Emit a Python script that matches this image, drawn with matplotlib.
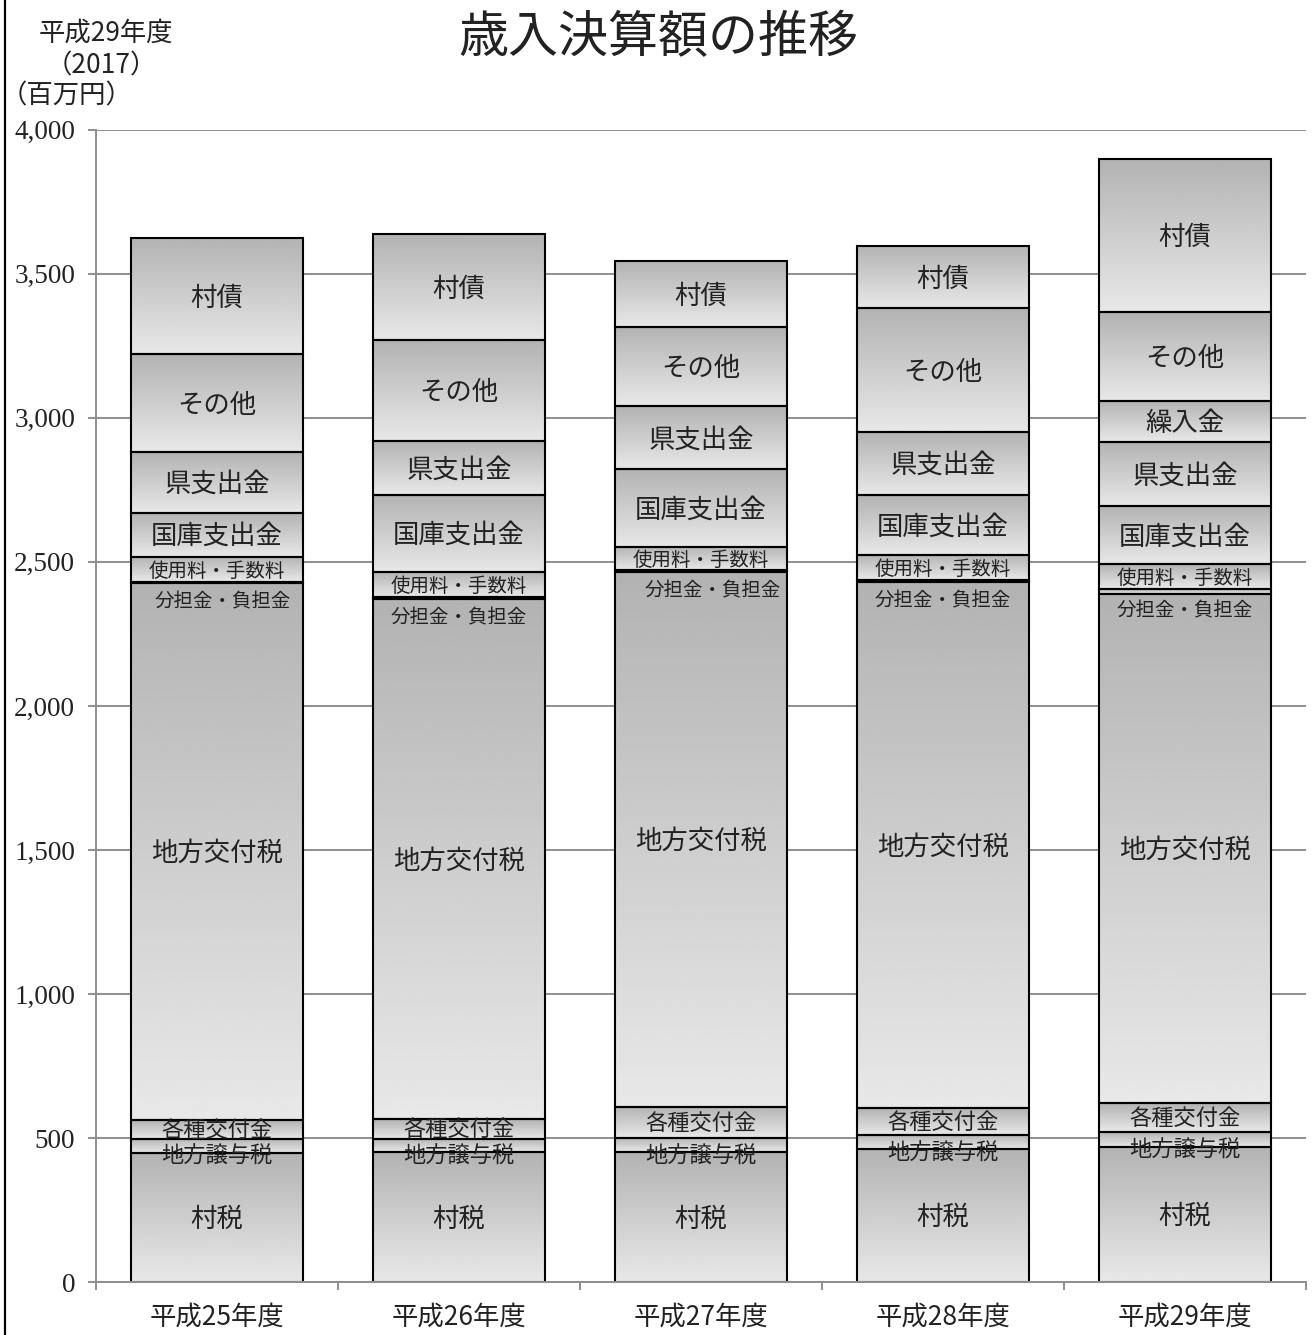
import numpy as np
import matplotlib
matplotlib.use("Agg")
import matplotlib.pyplot as plt
from matplotlib.lines import Line2D

plt.rcParams['font.family'] = ['Noto Sans CJK JP', 'DejaVu Sans']

# Fiscal years (Heisei era)
years = ['平成25年度', '平成26年度', '平成27年度', '平成28年度', '平成29年度']

# Revenue items, bottom to top (million yen)
items = ['村税', '地方譲与税', '各種交付金', '地方交付税', '分担金・負担金',
         '使用料・手数料', '国庫支出金', '県支出金', '繰入金', 'その他', '村債']

son_zei        = [450, 453, 452, 463, 470]
joyo_zei       = [49, 46, 50, 50, 51]
kofukin        = [63, 67, 108, 92, 100]
kofu_zei       = [1865, 1805, 1854, 1824, 1769]
buntankin      = [4, 7, 8, 8, 17]
shiyoryo       = [87, 88, 81, 87, 85]
kokko_shishutsu = [153, 265, 268, 208, 203]
ken_shishutsu  = [209, 188, 218, 218, 220]
kurirekin      = [0, 0, 0, 0, 143]
sonota         = [341, 350, 275, 429, 308]
son_sai        = [403, 367, 229, 217, 532]

series = [son_zei, joyo_zei, kofukin, kofu_zei, buntankin, shiyoryo,
          kokko_shishutsu, ken_shishutsu, kurirekin, sonota, son_sai]

yticks = [0, 500, 1000, 1500, 2000, 2500, 3000, 3500, 4000]
ytick_labels = ['0', '500', '1,000', '1,500', '2,000', '2,500', '3,000', '3,500', '4,000']

# label size and vertical nudge (pixels) for each item
label_size = {'地方譲与税': 16, '各種交付金': 16, '分担金・負担金': 14, '使用料・手数料': 14}
label_shift = {'地方譲与税': -9, '各種交付金': 1, '分担金・負担金': -18}
label_dx = {('分担金・負担金', 0): 6, ('分担金・負担金', 2): 12}

W, H = 1312, 1335
fig = plt.figure(figsize=(W / 100, H / 100), dpi=100)
ax = fig.add_axes([96 / W, (H - 1282.4) / H, 1210 / W, 1152.9 / H])

x = np.arange(len(years))
bar_w = 0.71
grad = np.linspace(0.70, 0.91, 256).reshape(-1, 1)
text_color = '#222222'

bottom = np.zeros(len(years))
for name, vals in zip(items, series):
    vals = np.array(vals, dtype=float)
    for i in range(len(years)):
        if vals[i] <= 0:
            continue
        bars = ax.bar(x[i], vals[i], bottom=bottom[i], width=bar_w,
                      facecolor='none', edgecolor='black', linewidth=1.5, zorder=3)
        p = bars.patches[0]
        x0, y0 = p.get_x(), p.get_y()
        x1, y1 = x0 + p.get_width(), y0 + p.get_height()
        ax.imshow(grad, cmap='gray', vmin=0, vmax=1, aspect='auto',
                  extent=(x0, x1, y0, y1), origin='upper', zorder=2,
                  interpolation='bilinear')
        ax.annotate(name, (x[i], bottom[i] + vals[i] / 2),
                    xytext=(label_dx.get((name, i), 0), label_shift.get(name, 0) - 2),
                    textcoords='offset pixels',
                    ha='center', va='center', fontsize=label_size.get(name, 19),
                    color=text_color, zorder=4)
    bottom += vals

ax.set_xlim(-0.5, len(years) - 0.5)
ax.set_ylim(0, 4000)

# axes styling
grid_c = '#8e8e8e'
ax.set_yticks(yticks)
ax.set_yticklabels(ytick_labels, family='Liberation Serif', fontsize=19.5, color=text_color)
ax.yaxis.grid(True, color=grid_c, linewidth=1.4, zorder=1)
ax.set_axisbelow(True)
for s in ['top', 'right']:
    ax.spines[s].set_visible(False)
for s in ['left', 'bottom']:
    ax.spines[s].set_color(grid_c)
    ax.spines[s].set_linewidth(1.4)
    ax.spines[s].set_zorder(5)
ax.tick_params(axis='y', length=6, width=1.4, color=grid_c, pad=9)

ax.set_xticks(x)
ax.set_xticklabels(years, fontsize=19, color=text_color)
ax.set_xticks(np.arange(len(years) + 1) - 0.5, minor=True)
ax.tick_params(axis='x', which='major', length=0, pad=15)
ax.tick_params(axis='x', which='minor', length=6, width=1.4, color=grid_c)

# title and unit notes
fig.text(658 / W, 1 - 38 / H, '歳入決算額の推移', ha='center', va='center',
         fontsize=36, color=text_color)
fig.text(106 / W, 1 - 33 / H, '平成29年度', ha='center', va='center',
         fontsize=19, color=text_color)
fig.text(101 / W, 1 - 66 / H, '（2017）', ha='center', va='center',
         fontsize=19, color=text_color)
fig.text(67 / W, 1 - 96 / H, '（百万円）', ha='center', va='center',
         fontsize=19, color=text_color)

# frame line on the left edge
fig.add_artist(Line2D([5 / W, 5 / W], [0, 1], color='black', linewidth=1.6,
                      transform=fig.transFigure))

fig.savefig('out.png', dpi=100)
